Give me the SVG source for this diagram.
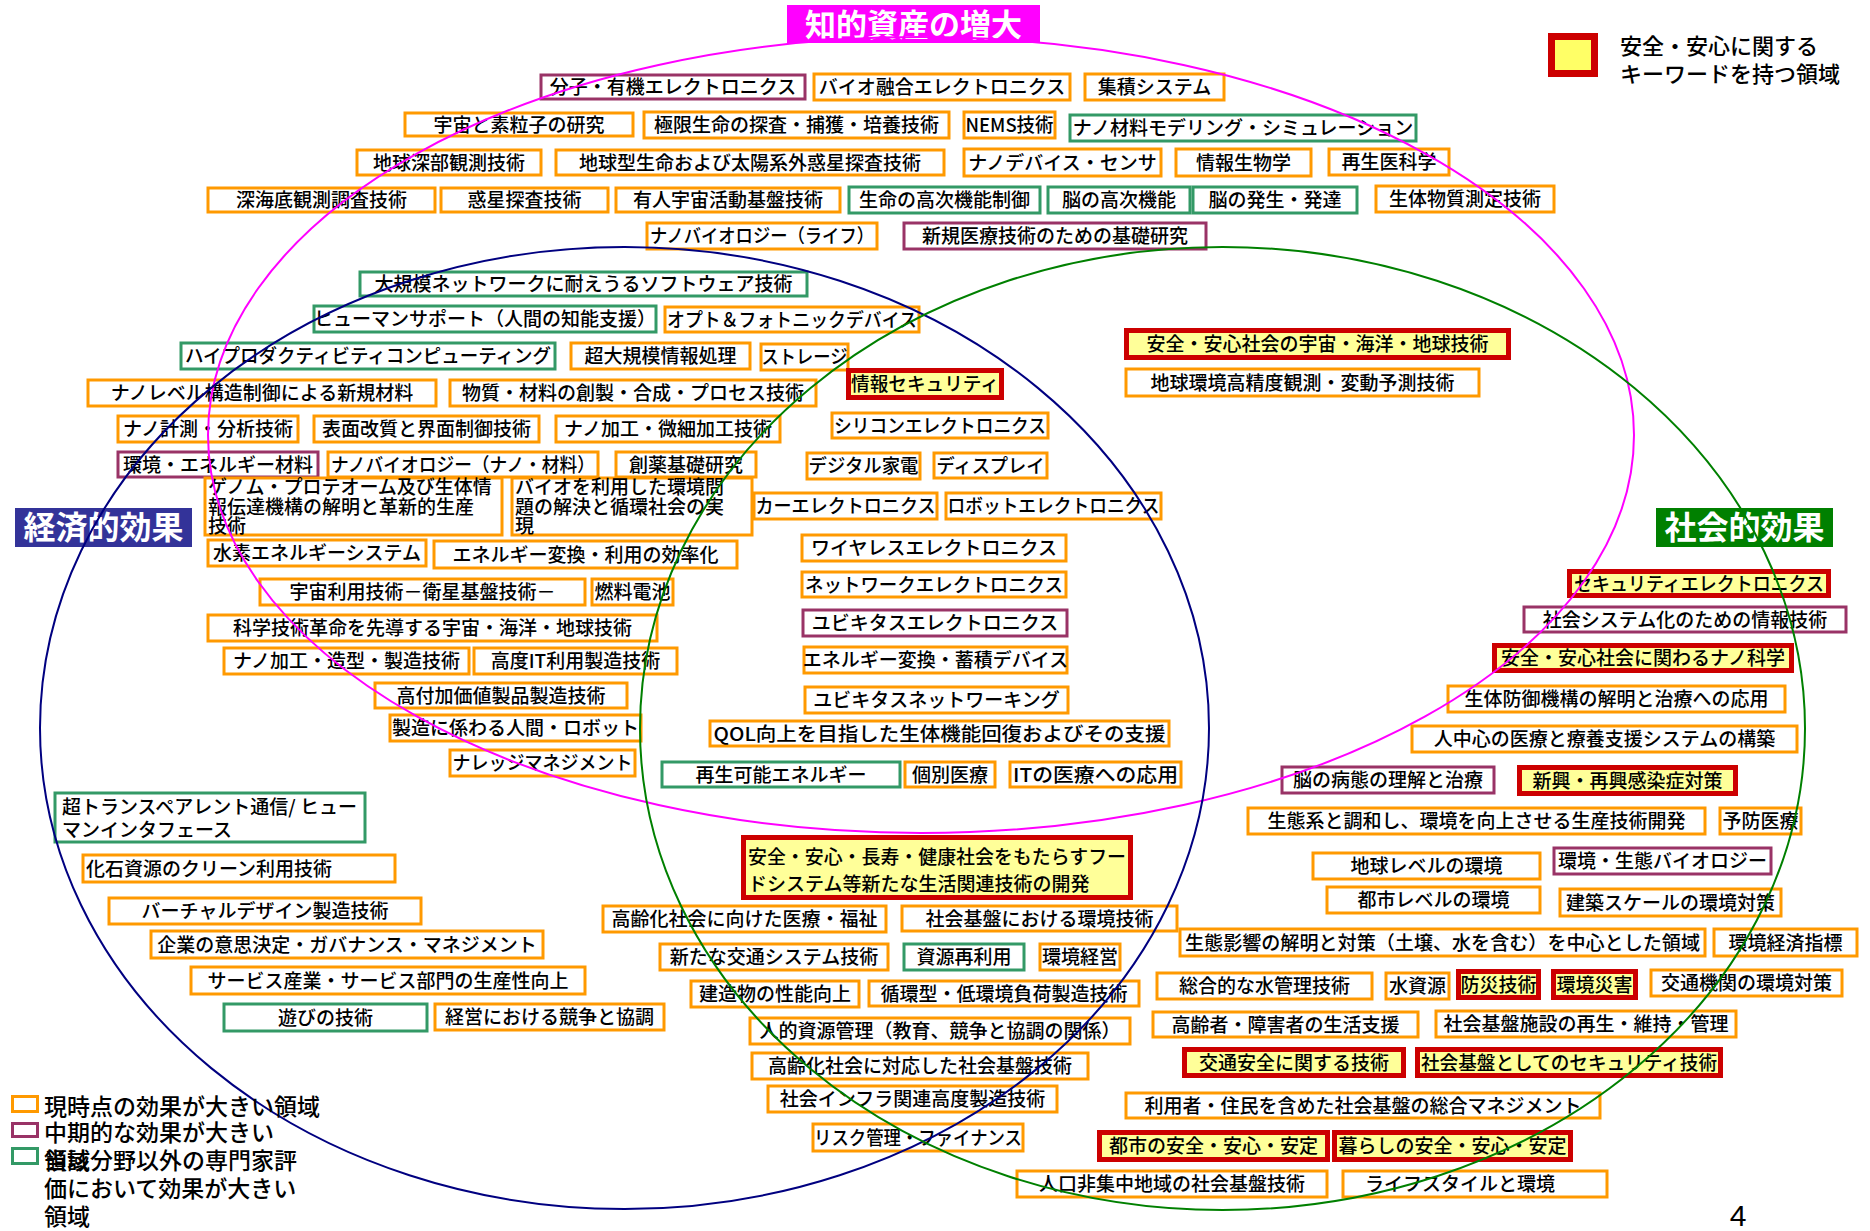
<svg xmlns="http://www.w3.org/2000/svg" width="1870" height="1231" viewBox="0 0 1870 1231">
<style>
.o{fill:#fff;stroke:#FF9900;stroke-width:3}
.p{fill:#fff;stroke:#993366;stroke-width:3}
.g{fill:#fff;stroke:#339966;stroke-width:3}
.r{fill:#FFFF99;stroke:#CC0000;stroke-width:5}
text{font-family:"Noto Sans CJK JP","Noto Sans",sans-serif;font-size:19px;font-weight:500;fill:#000}
.c{text-anchor:middle}
.tt{font-size:31px;font-weight:700;fill:#fff;text-anchor:middle}
.lg{font-size:23px}
.lr{font-size:22px}
.ell{fill:none;stroke-width:2}
</style>
<rect x="0" y="0" width="1870" height="1231" fill="#fff"/>
<g id="nodes">
<g id="n01"><rect class="p" x="541" y="75" width="264" height="24"/><text class="c" x="673" y="94">分子・有機エレクトロニクス</text></g>
<g id="n02"><rect class="o" x="814" y="74" width="256" height="26"/><text class="c" x="942" y="94">バイオ融合エレクトロニクス</text></g>
<g id="n03"><rect class="o" x="1085" y="74" width="139" height="26"/><text class="c" x="1154.5" y="94">集積システム</text></g>
<g id="n04"><rect class="o" x="405" y="113" width="228" height="23"/><text class="c" x="519" y="131.5">宇宙と素粒子の研究</text></g>
<g id="n05"><rect class="o" x="644" y="112" width="305" height="26"/><text class="c" x="796.5" y="132">極限生命の探査・捕獲・培養技術</text></g>
<g id="n06"><rect class="o" x="964" y="112" width="91" height="26"/><text class="c" x="1009.5" y="132" textLength="88" lengthAdjust="spacingAndGlyphs">NEMS技術</text></g>
<g id="n07"><rect class="g" x="1070" y="115" width="346" height="26"/><text class="c" x="1243" y="135">ナノ材料モデリング・シミュレーション</text></g>
<g id="n08"><rect class="o" x="357" y="150" width="184" height="25"/><text class="c" x="449" y="169.5">地球深部観測技術</text></g>
<g id="n09"><rect class="o" x="556" y="150" width="388" height="25"/><text class="c" x="750" y="169.5">地球型生命および太陽系外惑星探査技術</text></g>
<g id="n10"><rect class="o" x="964" y="149" width="197" height="27"/><text class="c" x="1062.5" y="169.5">ナノデバイス・センサ</text></g>
<g id="n11"><rect class="o" x="1176" y="149" width="135" height="27"/><text class="c" x="1243.5" y="169.5">情報生物学</text></g>
<g id="n12"><rect class="o" x="1329" y="149" width="120" height="26"/><text class="c" x="1389" y="169">再生医科学</text></g>
<g id="n13"><rect class="o" x="208" y="188" width="227" height="24"/><text class="c" x="321.5" y="207">深海底観測調査技術</text></g>
<g id="n14"><rect class="o" x="441" y="188" width="167" height="24"/><text class="c" x="524.5" y="207">惑星探査技術</text></g>
<g id="n15"><rect class="o" x="616" y="188" width="224" height="24"/><text class="c" x="728" y="207">有人宇宙活動基盤技術</text></g>
<g id="n16"><rect class="g" x="849" y="187" width="191" height="26"/><text class="c" x="944.5" y="207">生命の高次機能制御</text></g>
<g id="n17"><rect class="g" x="1048" y="187" width="142" height="26"/><text class="c" x="1119" y="207">脳の高次機能</text></g>
<g id="n18"><rect class="g" x="1193" y="187" width="164" height="26"/><text class="c" x="1275" y="207">脳の発生・発達</text></g>
<g id="n19"><rect class="o" x="1376" y="186" width="178" height="26"/><text class="c" x="1465" y="206">生体物質測定技術</text></g>
<g id="n20"><rect class="o" x="647" y="223" width="230" height="26"/><text class="c" x="762" y="243" textLength="224" lengthAdjust="spacingAndGlyphs">ナノバイオロジー（ライフ）</text></g>
<g id="n21"><rect class="p" x="904" y="223" width="302" height="26"/><text class="c" x="1055" y="243">新規医療技術のための基礎研究</text></g>
<g id="n22"><rect class="g" x="360" y="272" width="447" height="24"/><text class="c" x="583.5" y="291">大規模ネットワークに耐えうるソフトウェア技術</text></g>
<g id="n23"><rect class="g" x="314" y="306" width="342" height="26"/><text class="c" x="485" y="326">ヒューマンサポート（人間の知能支援）</text></g>
<g id="n24"><rect class="o" x="665" y="307" width="254" height="25"/><text class="c" x="792" y="326.5" textLength="250" lengthAdjust="spacingAndGlyphs">オプト＆フォトニックデバイス</text></g>
<g id="n25"><rect class="g" x="181" y="343" width="374" height="26"/><text class="c" x="368" y="363" textLength="366" lengthAdjust="spacingAndGlyphs">ハイプロダクティビティコンピューティング</text></g>
<g id="n26"><rect class="o" x="571" y="343" width="179" height="26"/><text class="c" x="660.5" y="363">超大規模情報処理</text></g>
<g id="n27"><rect class="o" x="761" y="344" width="87" height="26"/><text class="c" x="804.5" y="364" textLength="86" lengthAdjust="spacingAndGlyphs">ストレージ</text></g>
<g id="n28"><rect class="r" x="848.5" y="370.5" width="153" height="27"/><text class="c" x="925" y="391" textLength="148" lengthAdjust="spacingAndGlyphs">情報セキュリティ</text></g>
<g id="n29"><rect class="r" x="1126.5" y="330.5" width="382" height="27"/><text class="c" x="1317.5" y="351">安全・安心社会の宇宙・海洋・地球技術</text></g>
<g id="n30"><rect class="o" x="1126" y="369" width="353" height="27"/><text class="c" x="1302.5" y="389.5">地球環境高精度観測・変動予測技術</text></g>
<g id="n31"><rect class="o" x="88" y="380" width="348" height="26"/><text class="c" x="262" y="400">ナノレベル構造制御による新規材料</text></g>
<g id="n32"><rect class="o" x="450" y="380" width="366" height="26"/><text class="c" x="633" y="400">物質・材料の創製・合成・プロセス技術</text></g>
<g id="n33"><rect class="o" x="118" y="416" width="180" height="26"/><text class="c" x="208" y="436">ナノ計測・分析技術</text></g>
<g id="n34"><rect class="o" x="314" y="416" width="225" height="26"/><text class="c" x="426.5" y="436">表面改質と界面制御技術</text></g>
<g id="n35"><rect class="o" x="556" y="416" width="224" height="26"/><text class="c" x="668" y="436">ナノ加工・微細加工技術</text></g>
<g id="n36"><rect class="o" x="832" y="413" width="216" height="25"/><text class="c" x="940" y="432.5" textLength="212" lengthAdjust="spacingAndGlyphs">シリコンエレクトロニクス</text></g>
<g id="n37"><rect class="p" x="118" y="452" width="200" height="25"/><text class="c" x="218" y="471.5">環境・エネルギー材料</text></g>
<g id="n38"><rect class="o" x="328" y="452" width="270" height="25"/><text class="c" x="463" y="471.5" textLength="264" lengthAdjust="spacingAndGlyphs">ナノバイオロジー（ナノ・材料）</text></g>
<g id="n39"><rect class="o" x="616" y="452" width="140" height="25"/><text class="c" x="686" y="471.5">創薬基礎研究</text></g>
<g id="n40"><rect class="o" x="807" y="453" width="113" height="26"/><text class="c" x="863.5" y="473" textLength="110" lengthAdjust="spacingAndGlyphs">デジタル家電</text></g>
<g id="n41"><rect class="o" x="934" y="453" width="113" height="25"/><text class="c" x="990.5" y="472.5" textLength="108" lengthAdjust="spacingAndGlyphs">ディスプレイ</text></g>
<g id="n42"><rect class="o" x="205" y="478" width="297" height="57"/><text x="208" y="494">ゲノム・プロテオーム及び生体情</text><text x="208" y="514">報伝達機構の解明と革新的生産</text><text x="208" y="533">技術</text></g>
<g id="n43"><rect class="o" x="512" y="478" width="240" height="57"/><text x="515" y="494">バイオを利用した環境問</text><text x="515" y="514">題の解決と循環社会の実</text><text x="515" y="533">現</text></g>
<g id="n44"><rect class="o" x="754" y="493" width="183" height="26"/><text class="c" x="845.5" y="513" textLength="180" lengthAdjust="spacingAndGlyphs">カーエレクトロニクス</text></g>
<g id="n45"><rect class="o" x="946" y="493" width="215" height="26"/><text class="c" x="1053.5" y="513" textLength="212" lengthAdjust="spacingAndGlyphs">ロボットエレクトロニクス</text></g>
<g id="n46"><rect class="o" x="208" y="540" width="218" height="26"/><text class="c" x="317" y="560">水素エネルギーシステム</text></g>
<g id="n47"><rect class="o" x="434" y="541" width="303" height="27"/><text class="c" x="585.5" y="561.5">エネルギー変換・利用の効率化</text></g>
<g id="n48"><rect class="o" x="802" y="535" width="264" height="26"/><text class="c" x="934" y="555">ワイヤレスエレクトロニクス</text></g>
<g id="n49"><rect class="o" x="260" y="579" width="325" height="26"/><text class="c" x="422.5" y="599">宇宙利用技術－衛星基盤技術－</text></g>
<g id="n50"><rect class="o" x="592" y="579" width="81" height="26"/><text class="c" x="632.5" y="599">燃料電池</text></g>
<g id="n51"><rect class="o" x="802" y="572" width="264" height="25"/><text class="c" x="934" y="591.5" textLength="258" lengthAdjust="spacingAndGlyphs">ネットワークエレクトロニクス</text></g>
<g id="n52"><rect class="o" x="208" y="615" width="449" height="26"/><text class="c" x="432.5" y="635">科学技術革命を先導する宇宙・海洋・地球技術</text></g>
<g id="n53"><rect class="p" x="803" y="610" width="264" height="26"/><text class="c" x="935" y="630">ユビキタスエレクトロニクス</text></g>
<g id="n54"><rect class="o" x="224" y="648" width="245" height="26"/><text class="c" x="346.5" y="668">ナノ加工・造型・製造技術</text></g>
<g id="n55"><rect class="o" x="474" y="648" width="203" height="26"/><text class="c" x="575.5" y="668">高度IT利用製造技術</text></g>
<g id="n56"><rect class="o" x="804" y="647" width="263" height="26"/><text class="c" x="935.5" y="667">エネルギー変換・蓄積デバイス</text></g>
<g id="n57"><rect class="o" x="375" y="683" width="252" height="25"/><text class="c" x="501" y="702.5">高付加価値製品製造技術</text></g>
<g id="n58"><rect class="o" x="805" y="687" width="263" height="26"/><text class="c" x="936.5" y="707">ユビキタスネットワーキング</text></g>
<g id="n59"><rect class="o" x="390" y="715" width="251" height="26"/><text class="c" x="515.5" y="735">製造に係わる人間・ロボット</text></g>
<g id="n60"><rect class="o" x="710" y="721" width="459" height="25"/><text class="c" x="939.5" y="740.5" textLength="452" lengthAdjust="spacingAndGlyphs">QOL向上を目指した生体機能回復およびその支援</text></g>
<g id="n61"><rect class="o" x="450" y="750" width="185" height="26"/><text class="c" x="542.5" y="770" textLength="180" lengthAdjust="spacingAndGlyphs">ナレッジマネジメント</text></g>
<g id="n62"><rect class="g" x="662" y="762" width="238" height="25"/><text class="c" x="781" y="781.5">再生可能エネルギー</text></g>
<g id="n63"><rect class="o" x="905" y="762" width="90" height="25"/><text class="c" x="950" y="781.5">個別医療</text></g>
<g id="n64"><rect class="o" x="1010" y="762" width="171" height="25"/><text class="c" x="1095.5" y="781.5" textLength="165" lengthAdjust="spacingAndGlyphs">ITの医療への応用</text></g>
<g id="n65"><rect class="g" x="55" y="793" width="310" height="49"/><text x="62" y="814">超トランスペアレント通信/ ヒュー</text><text x="62" y="837">マンインタフェース</text></g>
<g id="n66"><rect class="o" x="83" y="855" width="312" height="27"/><text x="86" y="875.5">化石資源のクリーン利用技術</text></g>
<g id="n67"><rect class="o" x="109" y="898" width="312" height="26"/><text class="c" x="265" y="918">バーチャルデザイン製造技術</text></g>
<g id="n68"><rect class="o" x="151" y="931" width="392" height="27"/><text class="c" x="347" y="951.5">企業の意思決定・ガバナンス・マネジメント</text></g>
<g id="n69"><rect class="o" x="191" y="967" width="394" height="27"/><text class="c" x="388" y="987.5">サービス産業・サービス部門の生産性向上</text></g>
<g id="n70"><rect class="g" x="224" y="1004" width="203" height="27"/><text class="c" x="325.5" y="1024.5">遊びの技術</text></g>
<g id="n71"><rect class="o" x="435" y="1004" width="229" height="26"/><text class="c" x="549.5" y="1024">経営における競争と協調</text></g>
<g id="n72"><rect class="r" x="743.5" y="837.5" width="387" height="60"/><text x="748" y="864" textLength="378" lengthAdjust="spacingAndGlyphs">安全・安心・長寿・健康社会をもたらすフー</text><text x="748" y="891">ドシステム等新たな生活関連技術の開発</text></g>
<g id="n73"><rect class="o" x="603" y="906" width="283" height="26"/><text class="c" x="744.5" y="926">高齢化社会に向けた医療・福祉</text></g>
<g id="n74"><rect class="o" x="902" y="906" width="275" height="25"/><text class="c" x="1039.5" y="925.5">社会基盤における環境技術</text></g>
<g id="n75"><rect class="o" x="660" y="944" width="228" height="26"/><text class="c" x="774" y="964">新たな交通システム技術</text></g>
<g id="n76"><rect class="g" x="904" y="944" width="120" height="26"/><text class="c" x="964" y="964">資源再利用</text></g>
<g id="n77"><rect class="o" x="1040" y="944" width="80" height="26"/><text class="c" x="1080" y="964">環境経営</text></g>
<g id="n78"><rect class="o" x="691" y="981" width="168" height="26"/><text class="c" x="775" y="1001">建造物の性能向上</text></g>
<g id="n79"><rect class="o" x="869" y="981" width="270" height="25"/><text class="c" x="1004" y="1000.5">循環型・低環境負荷製造技術</text></g>
<g id="n80"><rect class="o" x="750" y="1018" width="380" height="26"/><text class="c" x="940" y="1038">人的資源管理（教育、競争と協調の関係）</text></g>
<g id="n81"><rect class="o" x="752" y="1053" width="336" height="26"/><text class="c" x="920" y="1073">高齢化社会に対応した社会基盤技術</text></g>
<g id="n82"><rect class="o" x="768" y="1086" width="289" height="26"/><text class="c" x="912.5" y="1106">社会インフラ関連高度製造技術</text></g>
<g id="n83"><rect class="o" x="813" y="1124" width="210" height="27"/><text class="c" x="918" y="1144.5" textLength="208" lengthAdjust="spacingAndGlyphs">リスク管理・ファイナンス</text></g>
<g id="n84"><rect class="r" x="1569.5" y="571.5" width="259" height="24"/><text class="c" x="1699" y="590.5" textLength="250" lengthAdjust="spacingAndGlyphs">セキュリティエレクトロニクス</text></g>
<g id="n85"><rect class="p" x="1524" y="607" width="322" height="25"/><text class="c" x="1685" y="626.5">社会システム化のための情報技術</text></g>
<g id="n86"><rect class="r" x="1494.5" y="645.5" width="297" height="25"/><text class="c" x="1643" y="665">安全・安心社会に関わるナノ科学</text></g>
<g id="n87"><rect class="o" x="1448" y="686" width="337" height="26"/><text class="c" x="1616.5" y="706">生体防御機構の解明と治療への応用</text></g>
<g id="n88"><rect class="o" x="1412" y="726" width="385" height="26"/><text class="c" x="1604.5" y="746">人中心の医療と療養支援システムの構築</text></g>
<g id="n89"><rect class="p" x="1282" y="767" width="212" height="26"/><text class="c" x="1388" y="787">脳の病態の理解と治療</text></g>
<g id="n90"><rect class="r" x="1519.5" y="767.5" width="216" height="26"/><text class="c" x="1627.5" y="787.5">新興・再興感染症対策</text></g>
<g id="n91"><rect class="o" x="1248" y="808" width="457" height="26"/><text class="c" x="1476.5" y="828">生態系と調和し、環境を向上させる生産技術開発</text></g>
<g id="n92"><rect class="o" x="1720" y="808" width="81" height="26"/><text class="c" x="1760.5" y="828">予防医療</text></g>
<g id="n93"><rect class="o" x="1313" y="853" width="227" height="26"/><text class="c" x="1426.5" y="873">地球レベルの環境</text></g>
<g id="n94"><rect class="p" x="1554" y="848" width="217" height="26"/><text class="c" x="1662.5" y="868">環境・生態バイオロジー</text></g>
<g id="n95"><rect class="o" x="1327" y="887" width="213" height="26"/><text class="c" x="1433.5" y="907">都市レベルの環境</text></g>
<g id="n96"><rect class="o" x="1560" y="889" width="221" height="27"/><text class="c" x="1670.5" y="909.5">建築スケールの環境対策</text></g>
<g id="n97"><rect class="o" x="1180" y="929" width="525" height="27"/><text class="c" x="1442.5" y="949.5" textLength="515" lengthAdjust="spacingAndGlyphs">生態影響の解明と対策（土壌、水を含む）を中心とした領域</text></g>
<g id="n98"><rect class="o" x="1714" y="929" width="143" height="27"/><text class="c" x="1785.5" y="949.5">環境経済指標</text></g>
<g id="n99"><rect class="o" x="1157" y="973" width="215" height="26"/><text class="c" x="1264.5" y="993">総合的な水管理技術</text></g>
<g id="n100"><rect class="o" x="1386" y="973" width="63" height="26"/><text class="c" x="1417.5" y="993">水資源</text></g>
<g id="n101"><rect class="r" x="1458.5" y="971.5" width="80" height="26"/><text class="c" x="1498.5" y="991.5" textLength="76" lengthAdjust="spacingAndGlyphs">防災技術</text></g>
<g id="n102"><rect class="r" x="1553.5" y="971.5" width="82" height="26"/><text class="c" x="1594.5" y="991.5">環境災害</text></g>
<g id="n103"><rect class="o" x="1651" y="970" width="191" height="26"/><text class="c" x="1746.5" y="990">交通機関の環境対策</text></g>
<g id="n104"><rect class="o" x="1153" y="1012" width="265" height="25"/><text class="c" x="1285.5" y="1031.5">高齢者・障害者の生活支援</text></g>
<g id="n105"><rect class="o" x="1436" y="1011" width="300" height="26"/><text class="c" x="1586" y="1031">社会基盤施設の再生・維持・管理</text></g>
<g id="n106"><rect class="r" x="1184.5" y="1049.5" width="219" height="26"/><text class="c" x="1294" y="1069.5">交通安全に関する技術</text></g>
<g id="n107"><rect class="r" x="1417.5" y="1049.5" width="303" height="26"/><text class="c" x="1569" y="1069.5" textLength="296" lengthAdjust="spacingAndGlyphs">社会基盤としてのセキュリティ技術</text></g>
<g id="n108"><rect class="o" x="1126" y="1093" width="474" height="25"/><text class="c" x="1363" y="1112.5">利用者・住民を含めた社会基盤の総合マネジメント</text></g>
<g id="n109"><rect class="r" x="1099.5" y="1132.5" width="228" height="27"/><text class="c" x="1213.5" y="1153">都市の安全・安心・安定</text></g>
<g id="n110"><rect class="r" x="1334.5" y="1132.5" width="236" height="27"/><text class="c" x="1452.5" y="1153">暮らしの安全・安心・安定</text></g>
<g id="n111"><rect class="o" x="1017" y="1171" width="310" height="26"/><text class="c" x="1172" y="1191">人口非集中地域の社会基盤技術</text></g>
<g id="n112"><rect class="o" x="1343" y="1171" width="264" height="26"/><text class="c" x="1460" y="1191">ライフスタイルと環境</text></g>
<g id="title-ip"><rect x="787" y="5" width="253" height="38" fill="#FF00FF"/><text class="tt" x="913.5" y="36">知的資産の増大</text></g>
<g id="title-econ"><rect x="15" y="508" width="177" height="39" fill="#333399"/><text class="tt" x="103.5" y="539" style="font-size:32px">経済的効果</text></g>
<g id="title-soc"><rect x="1656" y="508" width="177" height="39" fill="#008000"/><text class="tt" x="1744.5" y="539" style="font-size:32px">社会的効果</text></g>
</g>
<g id="connectors">
<ellipse class="ell" cx="921" cy="435" rx="713" ry="398" stroke="#FF00FF"/>
<ellipse class="ell" cx="624.5" cy="728" rx="584.5" ry="481" stroke="#000080"/>
<ellipse class="ell" cx="1222.5" cy="728.5" rx="582.5" ry="481.5" stroke="#008000"/>
</g>
<g id="legend-safety"><rect x="1551.5" y="36.5" width="43" height="37" fill="#FFFF66" stroke="#CC0000" stroke-width="7"/><text class="lr" x="1620" y="54">安全・安心に関する</text><text class="lr" x="1620" y="82">キーワードを持つ領域</text></g>
<g id="legend-effect">
<rect x="12.5" y="1096.5" width="25" height="15" fill="none" stroke="#FF9900" stroke-width="3"/>
<rect x="12.5" y="1123.5" width="25" height="13" fill="none" stroke="#993366" stroke-width="3"/>
<rect x="12.5" y="1148.5" width="25" height="15" fill="none" stroke="#339966" stroke-width="3"/>
<text class="lg" x="44" y="1115">現時点の効果が大きい領域</text>
<text class="lg" x="44" y="1141">中期的な効果が大きい</text>
<text class="lg" x="44" y="1169">領域</text>
<text class="lg" x="44" y="1169">当該分野以外の専門家評</text>
<text class="lg" x="44" y="1197">価において効果が大きい</text>
<text class="lg" x="44" y="1225">領域</text>
</g>
<text x="1738" y="1226" style="font-family:'Liberation Sans',sans-serif;font-size:30px" text-anchor="middle">4</text>
</svg>
